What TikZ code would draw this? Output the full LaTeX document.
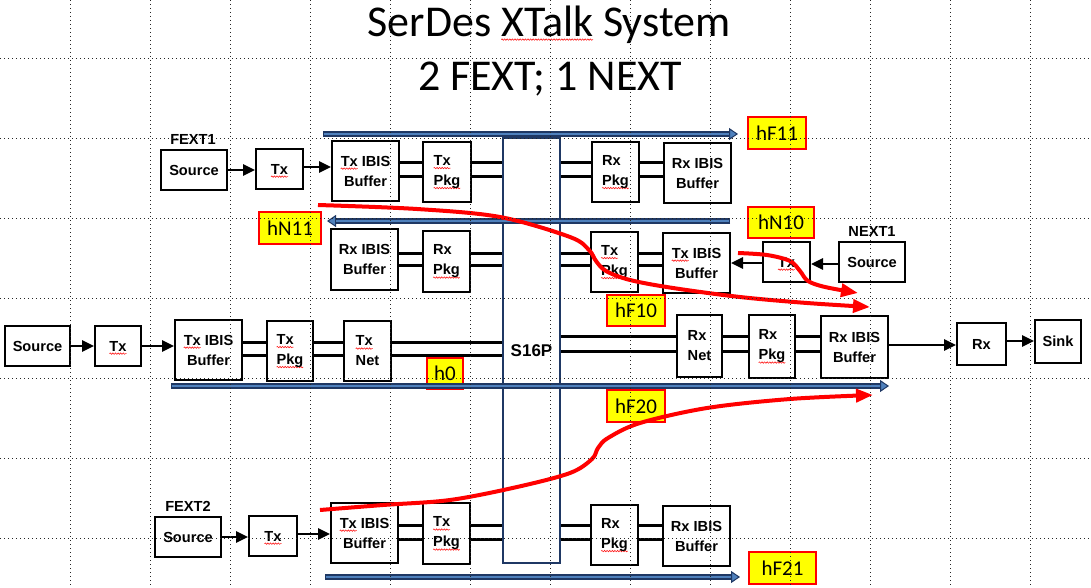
\documentclass[tikz,border=0pt]{standalone}
\usepackage{fontspec}
\setmainfont{Liberation Sans}
\newfontfamily\calib{Carlito}
\usetikzlibrary{arrows.meta,decorations.pathmorphing}
\newsavebox\rsqbox
\newcommand\rsq[1]{\sbox\rsqbox{#1}\rlap{\tikz[overlay,baseline=0pt]\draw[red!90, line width=0.6pt, decorate, decoration={snake, amplitude=0.7pt, segment length=2.6pt}] (0pt,-2.6pt) -- (\the\wd\rsqbox,-2.6pt);}\usebox\rsqbox}
\definecolor{barnavy}{HTML}{1F3864}
\definecolor{barblue}{HTML}{4F81BD}
\definecolor{hlyellow}{HTML}{FFFF00}
\tikzset{
  blk/.style={draw=black, line width=2pt, inner sep=0pt, align=center, font=\fontsize{14.6}{20}\selectfont\bfseries},
  blkl/.style={blk, align=left},
  sz/.style n args={2}{minimum width=#1pt, minimum height=#2pt},
  lbl/.style={font=\fontsize{14.6}{16}\selectfont\bfseries, inner sep=0pt},
  ttl/.style={font=\calib\fontsize{44}{50}\selectfont, inner sep=0pt},
  hl/.style={draw=red, line width=1.3pt, fill=hlyellow, inner sep=0pt, font=\calib\fontsize{21}{22}\selectfont},
  arr/.style={line width=2.7pt, -{Triangle[length=12pt,width=11pt]}},
  pr/.style={line width=3pt},
  redc/.style={draw=red, line width=4pt, -{Triangle[length=17pt,width=13pt]}},
  barout/.style={draw=barnavy, line width=5.5pt, -{Triangle[length=9pt,width=12pt,line width=1pt,fill=barblue]}},
  barin/.style={draw=barblue, line width=2.5pt, shorten >=9pt, shorten <=1.2pt},
  grd/.style={draw=black!85, line width=0.9pt, dash pattern=on 0.9pt off 3.1pt},
  sbox/.style={draw=barnavy, line width=2pt, inner sep=0pt, font=\fontsize{17}{18}\selectfont\bfseries}
}
\begin{document}
\begin{tikzpicture}[x=1pt,y=-1pt]
\fill[white] (0,0) rectangle (1091,588);
\useasboundingbox (0,0) rectangle (1091,588);

% title
\node[ttl, anchor=base] (t1) at (549,37) {SerDes \rsq{XTalk} System};
\node[ttl, anchor=base] (t2) at (550,91) {2 FEXT; 1 NEXT};

% S16P
\node[sbox, sz={57}{425}] (s16) at (531.5,350.5) {S16P};

% row 1 (FEXT1)
\node[lbl] (f1) at (193,139) {FEXT1};
\node[blk, sz={66}{40}] (src1) at (194,170) {Source};
\node[blk, sz={47}{40}] (tx1) at (279.5,169) {\rsq{Tx}};
\node[blk, sz={67}{60}] (tib1) at (365.5,171) {\rsq{Tx} IBIS\\Buffer};
\node[blkl, sz={48}{60}] (tpk1) at (447,172) {\rsq{Tx}\\\rsq{Pkg}};
\node[blkl, sz={47}{60}] (rpk1) at (615.5,172) {Rx\\\rsq{Pkg}};
\node[blk, sz={67}{60}] (rib1) at (697.5,173) {Rx IBIS\\Buffer};
\draw[arr] (src1.east) -- (src1.east -| tx1.west);
\draw[arr] (tx1.east |- 0,167) -- (tib1.west |- 0,167);
\foreach \yy in {162.5,176.5}{
  \draw[pr] (tib1.east |- 0,\yy) -- (tpk1.west |- 0,\yy);
  \draw[pr] (tpk1.east |- 0,\yy) -- (s16.west |- 0,\yy);
  \draw[pr] (s16.east |- 0,\yy) -- (rpk1.west |- 0,\yy);
  \draw[pr] (rpk1.east |- 0,\yy) -- (rib1.west |- 0,\yy);
}

% row 2 (NEXT1)
\node[blk, sz={67}{61}] (rib2) at (364.5,259.5) {Rx IBIS\\Buffer};
\node[blkl, sz={47}{61}] (rpk2) at (446.5,261.5) {Rx\\\rsq{Pkg}};
\node[blkl, sz={47}{60}] (tpk2) at (614.5,262) {\rsq{Tx}\\\rsq{Pkg}};
\node[blk, sz={67}{60}] (tib2) at (696.5,263) {\rsq{Tx} IBIS\\Buffer};
\node[blk, sz={47}{40}] (tx3) at (786.5,262) {\rsq{Tx}};
\node[blk, sz={66}{40}] (src3) at (872,262) {Source};
\node[lbl] (n1) at (872,231) {NEXT1};
\draw[arr] (src3.west |- 0,264) -- (tx3.east |- 0,264);
\draw[arr] (tx3.west |- 0,263) -- (tib2.east |- 0,263);
\foreach \yy in {253,265.5}{
  \draw[pr] (rib2.east |- 0,\yy) -- (rpk2.west |- 0,\yy);
  \draw[pr] (rpk2.east |- 0,\yy) -- (s16.west |- 0,\yy);
  \draw[pr] (s16.east |- 0,\yy) -- (tpk2.west |- 0,\yy);
  \draw[pr] (tpk2.east |- 0,\yy) -- (tib2.west |- 0,\yy);
}

% main row
\node[blk, sz={65}{40}] (src0) at (37.5,346) {Source};
\node[blk, sz={46}{40}] (tx0) at (118,346) {\rsq{Tx}};
\node[blk, sz={67}{60}] (tib0) at (208.5,350) {\rsq{Tx} IBIS\\Buffer};
\node[blkl, sz={46}{60}] (tpk0) at (290,351) {\rsq{Tx}\\\rsq{Pkg}};
\node[blkl, sz={47}{60}] (tnet0) at (367.5,351) {\rsq{Tx}\\Net};
\node[blkl, sz={45}{62}] (rnet0) at (699.5,346) {Rx\\Net};
\node[blkl, sz={46}{63}] (rpk0) at (772,346.5) {Rx\\\rsq{Pkg}};
\node[blk, sz={67}{62}] (rib0) at (854.5,347) {Rx IBIS\\Buffer};
\node[blk, sz={49}{42}] (rx0) at (981.5,344) {Rx};
\node[blk, sz={46}{43}] (sink) at (1058,341.5) {Sink};
\draw[arr] (src0.east) -- (src0.east -| tx0.west);
\draw[arr] (tx0.east) -- (tx0.east -| tib0.west);
\draw[arr] (rib0.east |- 0,345) -- (rx0.west |- 0,345);
\draw[arr] (rx0.east |- 0,341) -- (sink.west |- 0,341);
\foreach \yy in {342.5,355.5}{
  \draw[pr] (tib0.east |- 0,\yy) -- (tpk0.west |- 0,\yy);
  \draw[pr] (tpk0.east |- 0,\yy) -- (tnet0.west |- 0,\yy);
  \draw[pr] (tnet0.east |- 0,\yy) -- (s16.west |- 0,\yy);
}
\foreach \yy in {336,351}{
  \draw[pr] (s16.east |- 0,\yy) -- (rnet0.west |- 0,\yy);
  \draw[pr] (rnet0.east |- 0,\yy) -- (rpk0.west |- 0,\yy);
  \draw[pr] (rpk0.east |- 0,\yy) -- (rib0.west |- 0,\yy);
}

% row 4 (FEXT2)
\node[lbl] (f2) at (188,506) {FEXT2};
\node[blk, sz={66}{40}] (src4) at (188,537) {Source};
\node[blk, sz={48}{40}] (tx4) at (273,536) {\rsq{Tx}};
\node[blk, sz={67}{60}] (tib4) at (364.5,533) {\rsq{Tx} IBIS\\Buffer};
\node[blkl, sz={47}{61}] (tpk4) at (446.5,533.5) {\rsq{Tx}\\\rsq{Pkg}};
\node[blkl, sz={47}{60}] (rpk4) at (614.5,535) {Rx\\\rsq{Pkg}};
\node[blk, sz={67}{60}] (rib4) at (696.5,536) {Rx IBIS\\Buffer};
\draw[arr] (src4.east |- 0,537) -- (tx4.west |- 0,537);
\draw[arr] (tx4.east |- 0,534) -- (tib4.west |- 0,534);
\foreach \yy in {525,539}{
  \draw[pr] (tib4.east |- 0,\yy) -- (tpk4.west |- 0,\yy);
  \draw[pr] (tpk4.east |- 0,\yy) -- (s16.west |- 0,\yy);
  \draw[pr] (s16.east |- 0,\yy) -- (rpk4.west |- 0,\yy);
  \draw[pr] (rpk4.east |- 0,\yy) -- (rib4.west |- 0,\yy);
}

% highlighted labels
\node[hl, sz={58}{32}] (hF11) at (777,133) {hF11};
\node[hl, sz={66}{31}] (hN10) at (781,222.5) {hN10};
\node[hl, sz={62}{32}] (hN11) at (290,228) {hN11};
\node[hl, sz={58}{31}] (hF10) at (636,310.5) {hF10};
\node[hl, sz={36}{31}] (h0) at (445,373.5) {h0};
\node[hl, sz={58}{32}] (hF20) at (636,406) {hF20};
\node[hl, sz={67}{32}] (hF21) at (782.5,568) {hF21};

% blue bars
\coordinate (b1s) at (323,134); \coordinate (b1e) at (738,134);
\coordinate (b2s) at (730,221); \coordinate (b2e) at (327,221);
\coordinate (b3s) at (171,386); \coordinate (b3e) at (889,386);
\coordinate (b4s) at (325,577); \coordinate (b4e) at (740,577);
\foreach \bs/\be in {b1s/b1e,b2s/b2e,b3s/b3e,b4s/b4e}{
  \draw[barout] (\bs) -- (\be);
  \draw[barin] (\bs) -- (\be);
}

% red crosstalk curves
\draw[redc] plot[smooth, tension=0.55] coordinates {(318,205) (417,209) (500,217) (570,237) (589,250) (596,261) (606,271) (630,280) (673,288) (740,297) (807,303) (870,307)};
\draw[redc] plot[smooth, tension=0.55] coordinates {(738,253) (767,255) (790,261) (800,271) (808,281) (825,287) (858,293)};
\draw[redc] plot[smooth, tension=0.55] coordinates {(320,510) (383,505) (450,500) (517,487) (570,473) (592,459) (598,448) (608,438) (640,423) (707,408) (790,399) (873,395)};

% grid guides
\foreach \gx in {70,150,...,1030}{\draw[grd] (\gx,0) -- (\gx,588);}
\foreach \gy in {58,138,...,538}{\draw[grd] (0,\gy) -- (1091,\gy);}
\end{tikzpicture}
\end{document}
